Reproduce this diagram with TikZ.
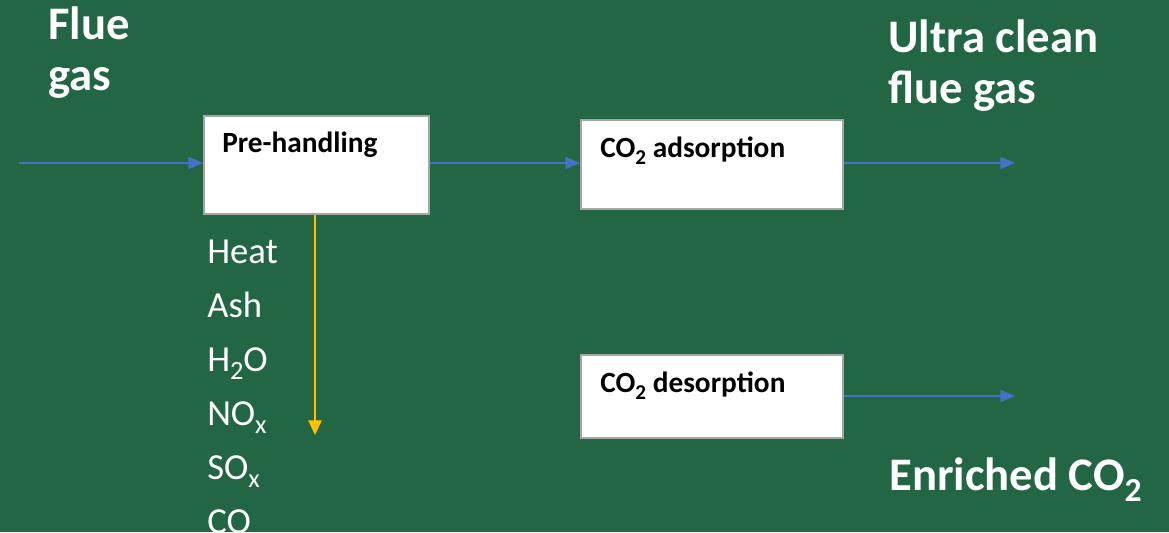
\documentclass[tikz,border=0pt]{standalone}
\usepackage{fontspec}
\setmainfont{Carlito}
\usetikzlibrary{arrows.meta}
\definecolor{boardgreen}{RGB}{35,102,67}
\definecolor{flowblue}{RGB}{68,114,196}
\definecolor{wasteyellow}{RGB}{255,192,0}
\newcommand{\chemsub}[1]{\raisebox{-0.5ex}{\scalebox{0.72}{#1}}}
\tikzset{
  flow/.style={draw=flowblue, line width=1.5pt, -{Triangle[length=11pt,width=9pt]}},
  waste/.style={draw=wasteyellow, line width=1.2pt, -{Triangle[length=11pt,width=10pt]}},
  unitbox/.style={draw=black!35, line width=1.2pt, fill=white, inner sep=0pt},
  boxtext/.style={anchor=base west, inner sep=0pt, font=\fontsize{22}{26}\selectfont\bfseries},
  bigtext/.style={anchor=base west, inner sep=0pt, text=white, align=left, font=\fontsize{35}{38}\selectfont\bfseries},
  listtext/.style={anchor=base west, inner sep=0pt, text=white, font=\fontsize{27.5}{32}\selectfont}
}
\begin{document}
\begin{tikzpicture}[x=0.75pt, y=-0.75pt]
      \fill[boardgreen] (0,0) rectangle (1169,532);
      \useasboundingbox (0,0) rectangle (1169,532);

      % process units
      \node[unitbox, minimum width=168.75pt, minimum height=73.5pt, anchor=north west] (pre) at (203,115) {};
      \node[unitbox, minimum width=196.5pt, minimum height=66.75pt, anchor=north west] (ads) at (580,119) {};
      \node[unitbox, minimum width=196.5pt, minimum height=62.25pt, anchor=north west] (des) at (580,354) {};
      \node[boxtext] (pretext) at (222,152) {Pre-handling};
      \node[boxtext] (adstext) at (600,157) {CO\chemsub{2} adsorption};
      \node[boxtext] (destext) at (600,392) {CO\chemsub{2} desorption};

      % streams
      \node[bigtext] (flue) at (48,90) {Flue\\gas};
      \node[bigtext] (clean) at (888,103) {Ultra clean\\flue gas};
      \node[bigtext] (enriched) at (889,490) {Enriched CO\chemsub{2}};
      \coordinate (in) at (19,163);
      \coordinate (out) at (1015,163);
      \coordinate (co2out) at (1015,396);
      \coordinate (drop) at (315,435);

      \draw[flow] (in) -- (pre.west |- in);
      \draw[flow] (pre.east |- in) -- (ads.west |- in);
      \draw[flow] (ads.east |- out) -- (out);
      \draw[flow] (des.east |- co2out) -- (co2out);
      \draw[waste] (pre.south -| drop) -- (drop);

      % removed species
      \node[listtext] (heat) at (207,263) {Heat};
      \node[listtext] (ash) at (207,317) {Ash};
      \node[listtext] (water) at (207,371) {H\chemsub{2}O};
      \node[listtext] (nox) at (207,425) {NO\chemsub{x}};
      \node[listtext] (sox) at (207,479) {SO\chemsub{x}};
      \node[listtext] (co) at (207,533) {CO};
    \end{tikzpicture}
\end{document}
